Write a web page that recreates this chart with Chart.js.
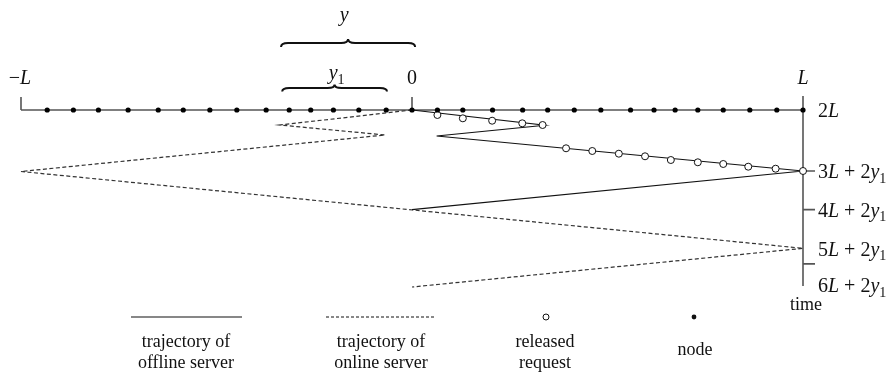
<!DOCTYPE html>
<html>
<head>
<meta charset="utf-8">
<script src="https://cdn.jsdelivr.net/npm/chart.js@4.4.1/dist/chart.umd.min.js"></script>
<style>
  html, body { margin: 0; padding: 0; background: #fff; }
  #wrap { width: 896px; height: 375px; }
</style>
</head>
<body>
<div id="wrap"><canvas id="myChart"></canvas></div>
<script>
// space in units of L (-L .. L), time in units of L
const Y1 = 0.2885;

const nodeX = [-0.933, -0.866, -0.802, -0.726, -0.649, -0.585, -0.517, -0.448, -0.373, -0.314,
  -0.259, -0.201, -0.136, -0.066, 0, 0.065, 0.130, 0.206, 0.283, 0.347, 0.415, 0.483, 0.559,
  0.619, 0.673, 0.731, 0.796, 0.864, 0.933, 1];

const requestX = [0.065, 0.130, 0.205, 0.282, 0.334, 0.394, 0.461, 0.529, 0.596, 0.662, 0.731, 0.796, 0.860, 0.930, 1];
const requestT = [2.129, 2.215, 2.277, 2.344, 2.388, 2.990, 3.060, 3.130, 3.197, 3.293, 3.352, 3.396, 3.466, 3.518, 3 + 2 * Y1];

const offlineX = [0, 0.340, 0.063, 1, 0];
const offlineT = [2, 2.395, 2.672, 3 + 2 * Y1, 4 + 2 * Y1];

const onlineX = [0, -0.338, -0.069, -1, 1, 0];
const onlineT = [2, 2.388, 2.646, 3.59, 5 + 2 * Y1, 6 + 2 * Y1];

const timeLabels = ['2L', '3L + 2y_1', '4L + 2y_1', '5L + 2y_1', '6L + 2y_1'];
const timeLabelT = [2, 3 + 2 * Y1, 4 + 2 * Y1, 5 + 2 * Y1, 6 + 2 * Y1];
const timeTicks = [3 + 2 * Y1, 4 + 2 * Y1, 5.98];

const topLabels = ['−L', '0', 'L'];
const topLabelX = [-1, 0, 1];

const braceY = [-0.335, 0.008];
const braceY1 = [-0.332, -0.064];

const legendLabels = [['trajectory of', 'offline server'], ['trajectory of', 'online server'], ['released', 'request'], ['node']];

const FONT = '"Liberation Serif", "DejaVu Serif", serif';

function drawMath(ctx, str, x, y, size, align) {
  const pieces = [];
  for (let i = 0; i < str.length; i++) {
    const c = str[i];
    if (c === '_') {
      pieces.push({ t: str[++i], f: Math.round(size * 0.68) + 'px ' + FONT, dy: size * 0.3 });
    } else if (/[A-Za-z]/.test(c)) {
      pieces.push({ t: c, f: 'italic ' + size + 'px ' + FONT, dy: 0 });
    } else {
      pieces.push({ t: c, f: size + 'px ' + FONT, dy: 0 });
    }
  }
  let w = 0;
  pieces.forEach(p => { ctx.font = p.f; p.w = ctx.measureText(p.t).width; w += p.w; });
  let cx = align === 'center' ? x - w / 2 : x;
  ctx.textAlign = 'left';
  ctx.textBaseline = 'middle';
  pieces.forEach(p => { ctx.font = p.f; ctx.fillText(p.t, cx, y + p.dy); cx += p.w; });
}

function drawBrace(ctx, x0, x1, yb, h) {
  const xc = (x0 + x1) / 2;
  ctx.beginPath();
  ctx.moveTo(x0, yb + h);
  ctx.quadraticCurveTo(x0, yb, x0 + 7, yb);
  ctx.lineTo(xc - 7, yb);
  ctx.quadraticCurveTo(xc, yb, xc, yb - h);
  ctx.quadraticCurveTo(xc, yb, xc + 7, yb);
  ctx.lineTo(x1 - 7, yb);
  ctx.quadraticCurveTo(x1, yb, x1, yb + h);
  ctx.stroke();
}

const figurePlugin = {
  id: 'figure',
  beforeDatasetsDraw(chart) {
    const ctx = chart.ctx;
    const xs = chart.scales.x, ys = chart.scales.y;
    const y0 = ys.getPixelForValue(2);
    ctx.save();
    ctx.strokeStyle = '#555';
    ctx.lineWidth = 1.6;
    ctx.beginPath();
    ctx.moveTo(xs.getPixelForValue(-1), y0);
    ctx.lineTo(xs.getPixelForValue(1), y0);
    // small upward ticks at -L and 0
    [-1, 0].forEach(v => {
      const px = xs.getPixelForValue(v);
      ctx.moveTo(px, y0 - 13);
      ctx.lineTo(px, y0);
    });
    // time axis
    const xr = xs.getPixelForValue(1);
    ctx.moveTo(xr, y0 - 14);
    ctx.lineTo(xr, ys.getPixelForValue(6 + 2 * Y1) - 1);
    timeTicks.forEach(t => {
      const py = ys.getPixelForValue(t);
      ctx.moveTo(xr, py);
      ctx.lineTo(xr + 12, py);
    });
    ctx.stroke();
    ctx.restore();
  },
  afterDraw(chart) {
    const ctx = chart.ctx;
    const xs = chart.scales.x, ys = chart.scales.y;
    const xr = xs.getPixelForValue(1);
    ctx.save();
    ctx.fillStyle = '#111';
    ctx.strokeStyle = '#111';

    timeLabels.forEach((s, i) => {
      const py = ys.getPixelForValue(timeLabelT[i]);
      drawMath(ctx, s, xr + 15, py + (i === timeLabels.length - 1 ? 0 : 2), 20, 'left');
    });
    topLabels.forEach((s, i) => {
      drawMath(ctx, s, xs.getPixelForValue(topLabelX[i]) - (i === 0 ? 1 : 0), 79, 20, 'center');
    });

    ctx.lineWidth = 2;
    drawBrace(ctx, xs.getPixelForValue(braceY[0]), xs.getPixelForValue(braceY[1]), 43, 4);
    drawBrace(ctx, xs.getPixelForValue(braceY1[0]), xs.getPixelForValue(braceY1[1]), 88, 3.5);
    drawMath(ctx, 'y', (xs.getPixelForValue(braceY[0]) + xs.getPixelForValue(braceY[1])) / 2 - 4, 16, 20, 'center');
    drawMath(ctx, 'y_1', (xs.getPixelForValue(braceY1[0]) + xs.getPixelForValue(braceY1[1])) / 2 + 2, 74, 20, 'center');

    ctx.font = '18px ' + FONT;
    ctx.textAlign = 'center';
    ctx.textBaseline = 'middle';
    ctx.fillText('time', xr + 3, 305);

    // legend
    const ly = 317;
    ctx.lineWidth = 1.2;
    ctx.beginPath();
    ctx.moveTo(131, ly); ctx.lineTo(242, ly);
    ctx.stroke();
    ctx.setLineDash([3, 2]);
    ctx.lineWidth = 1;
    ctx.beginPath();
    ctx.moveTo(326, ly); ctx.lineTo(436, ly);
    ctx.stroke();
    ctx.setLineDash([]);
    ctx.beginPath();
    ctx.arc(546, ly, 3, 0, Math.PI * 2);
    ctx.stroke();
    ctx.beginPath();
    ctx.arc(694, ly, 2.4, 0, Math.PI * 2);
    ctx.fill();

    const lx = [186, 381, 545, 695];
    ctx.font = '18px ' + FONT;
    legendLabels.forEach((lines, i) => {
      if (lines.length === 1) {
        ctx.fillText(lines[0], lx[i], 350);
      } else {
        ctx.fillText(lines[0], lx[i], 342);
        ctx.fillText(lines[1], lx[i], 363);
      }
    });
    ctx.restore();
  }
};

new Chart(document.getElementById('myChart'), {
  type: 'scatter',
  data: {
    datasets: [
      {
        label: 'node',
        data: nodeX.map(x => ({ x: x, y: 2 })),
        pointRadius: 2.6,
        pointBackgroundColor: '#000',
        pointBorderWidth: 0,
        clip: false
      },
      {
        label: 'released request',
        data: requestX.map((x, i) => ({ x: x, y: requestT[i] })),
        pointRadius: 3.5,
        pointBackgroundColor: '#fff',
        pointBorderColor: '#111',
        pointBorderWidth: 1,
        clip: false
      },
      {
        label: 'trajectory of offline server',
        data: offlineX.map((x, i) => ({ x: x, y: offlineT[i] })),
        showLine: true,
        borderColor: '#111',
        borderWidth: 1.1,
        pointRadius: 0,
        clip: false
      },
      {
        label: 'trajectory of online server',
        data: onlineX.map((x, i) => ({ x: x, y: onlineT[i] })),
        showLine: true,
        borderColor: '#333',
        borderWidth: 1.2,
        borderDash: [4, 2.5],
        pointRadius: 0,
        clip: false
      }
    ]
  },
  options: {
    animation: false,
    responsive: true,
    maintainAspectRatio: false,
    layout: { padding: { left: 21, right: 93, top: 110, bottom: 88 } },
    plugins: { legend: { display: false }, tooltip: { enabled: false } },
    scales: {
      x: { type: 'linear', min: -1, max: 1, display: false },
      y: { type: 'linear', reverse: true, min: 2, max: 6 + 2 * Y1, display: false }
    }
  },
  plugins: [figurePlugin]
});
</script>
</body>
</html>
